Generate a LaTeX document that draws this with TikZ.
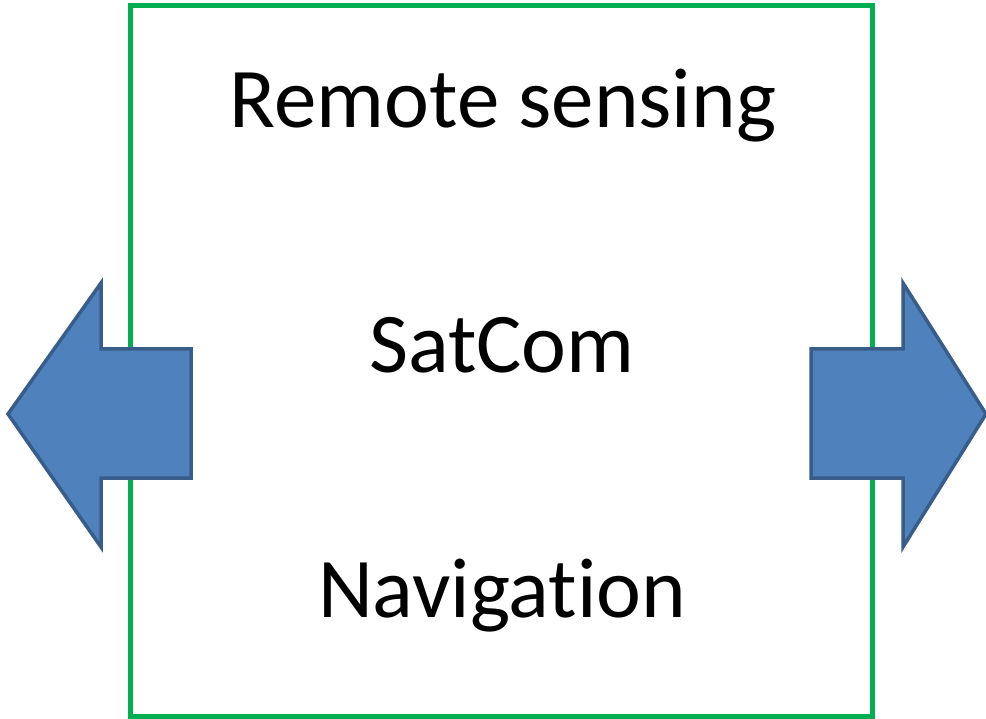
\documentclass[tikz,border=0pt]{standalone}
\usepackage{fontspec}
\setmainfont[Ligatures={NoCommon}]{Carlito}
\begin{document}
\begin{tikzpicture}[x=1pt,y=-1pt,
  frame/.style={draw={rgb,255:red,0;green,176;blue,80},line width=5pt},
  blockarrow/.style={draw={rgb,255:red,56;green,93;blue,138},fill={rgb,255:red,79;green,129;blue,189},line width=3.5pt,line join=miter},
  label/.style={font=\fontsize{85}{100}\selectfont,anchor=base,inner sep=0pt}]
\useasboundingbox (0,0) rectangle (986,719);
\node[frame,minimum width=742pt,minimum height=710pt,inner sep=0pt] (box) at (501,361) {};
\node[label] (rs) at (503,128) {Remote sensing};
\node[label] (sc) at (502,373) {SatCom};
\node[label] (nav) at (502,617) {Navigation};
\draw[blockarrow] (8,414) -- (101,283) -- (101,349) -- (191,349) -- (191,478) -- (101,478) -- (101,547) -- cycle;
\draw[blockarrow] (986,414) -- (903,283) -- (903,349) -- (811,349) -- (811,478) -- (903,478) -- (903,547) -- cycle;
\end{tikzpicture}
\end{document}
